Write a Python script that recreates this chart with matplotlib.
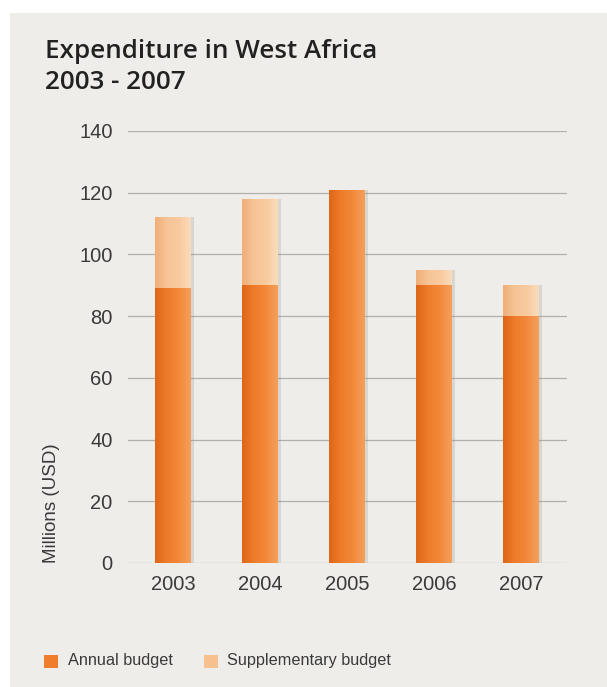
import numpy as np
import matplotlib
matplotlib.use("Agg")
import matplotlib.pyplot as plt
from matplotlib.patches import Rectangle
from matplotlib.colors import LinearSegmentedColormap
import matplotlib.transforms as mtransforms

years = ["2003", "2004", "2005", "2006", "2007"]
annual = [89, 90, 121, 90, 80]
supplementary = [23, 28, 0, 5, 10]
yticks = [0, 20, 40, 60, 80, 100, 120, 140]

W, H = 607, 687
fig = plt.figure(figsize=(W / 100, H / 100), dpi=100, facecolor="white")

# paper background
fig.patches.append(Rectangle((10 / W, 0), 1 - 10 / W, 1 - 13 / H,
                             transform=fig.transFigure, facecolor="#eeede9",
                             edgecolor="none", zorder=-10))

ax = fig.add_axes([128 / W, 124 / H, (567 - 128) / W, 432 / H])
ax.set_facecolor("none")

for y in yticks:
    ax.axhline(y, color="#b3b0aa", lw=0.9, zorder=1)

x = np.arange(len(years))
width = 0.41

# soft shadow to the right of each bar
tot = [a + s for a, s in zip(annual, supplementary)]
shadow_tr = ax.transData + mtransforms.ScaledTranslation(3 / 100, 0, fig.dpi_scale_trans)
ax.bar(x, tot, width=width, color="#8c8780", alpha=0.22, zorder=2,
       transform=shadow_tr, edgecolor="none")

cm_a = LinearSegmentedColormap.from_list("a", ["#de6618", "#ee7c2a", "#f2883a", "#f4a05c"])
cm_s = LinearSegmentedColormap.from_list("s", ["#f0ae78", "#f7c496", "#f8ca9e", "#fadcbc"])
grad = np.linspace(0, 1, 64).reshape(1, -1)

b1 = ax.bar(x, annual, width=width, color="#ef7d2c", zorder=3, edgecolor="none",
            label="Annual budget")
b2 = ax.bar(x, supplementary, width=width, bottom=annual, color="#f6c08f", zorder=3,
            edgecolor="none", label="Supplementary budget")

for bars, cm in ((b1, cm_a), (b2, cm_s)):
    for r in bars:
        if r.get_height() <= 0:
            continue
        x0, y0 = r.get_x(), r.get_y()
        im = ax.imshow(grad, cmap=cm, aspect="auto", zorder=4,
                       extent=(x0, x0 + r.get_width(), y0, y0 + r.get_height()))
        im.set_clip_path(r)

ax.set_xlim(-0.52, 4.53)
ax.set_ylim(0, 140)

for s in ax.spines.values():
    s.set_visible(False)
ax.tick_params(length=0, labelsize=14.5, labelcolor="#3a3a3a")
ax.set_xticks(x)
ax.set_xticklabels(years, fontfamily="Liberation Sans")
ax.set_yticks(yticks)
ax.set_yticklabels([str(v) for v in yticks], fontfamily="Liberation Sans")
ax.tick_params(axis="y", pad=11)
ax.tick_params(axis="x", pad=9)

fig.text(52 / W, 1 - 503 / H, "Millions (USD)", rotation=90, ha="center", va="center",
         fontsize=13.5, color="#3a3a3a", fontfamily="Liberation Sans")

# title, two lines, fitted to the reference width
t1 = fig.text(45 / W, 1 - 58 / H, "Expenditure in West Africa", ha="left", va="baseline",
              fontsize=18, fontweight="semibold", color="#222222", fontfamily="Open Sans")
t2 = fig.text(45 / W, 1 - 89 / H, "2003 - 2007", ha="left", va="baseline",
              fontsize=18, fontweight="semibold", color="#222222", fontfamily="Open Sans")
fig.canvas.draw()
w = t1.get_window_extent().width
fs = 18 * 332 / w
t1.set_fontsize(fs)
t2.set_fontsize(fs)

# legend
fig.patches.append(Rectangle((44 / W, 1 - 668 / H), 14 / W, 13 / H, transform=fig.transFigure,
                             facecolor="#ef7d2c", edgecolor="none"))
fig.text(68 / W, 1 - 661 / H, "Annual budget", ha="left", va="center", fontsize=11.7,
         color="#3a3a3a", fontfamily="Liberation Sans")
fig.patches.append(Rectangle((204 / W, 1 - 668 / H), 14 / W, 13 / H, transform=fig.transFigure,
                             facecolor="#f6c08f", edgecolor="none"))
fig.text(227 / W, 1 - 661 / H, "Supplementary budget", ha="left", va="center", fontsize=11.7,
         color="#3a3a3a", fontfamily="Liberation Sans")

fig.savefig("out.png", dpi=100, facecolor="white")
